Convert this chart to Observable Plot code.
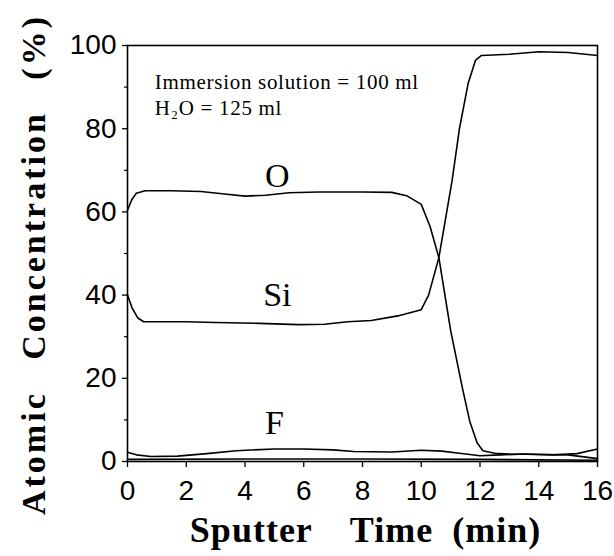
<!DOCTYPE html>
<html><head><meta charset="utf-8">
<script src="https://cdn.jsdelivr.net/npm/d3@7"></script>
<script src="https://cdn.jsdelivr.net/npm/@observablehq/plot@0.6"></script>
<style>
body{margin:0;background:#fff;}
</style></head><body><div id="chart"></div>
<script>
// ---- data ----
const oTime  = [0, 0.15, 0.3, 0.6, 1.5, 2.5, 3.3, 4, 4.7, 5.5, 6.5, 8, 9, 9.5, 10, 10.3, 10.6, 11.0, 11.4, 11.65, 11.9, 12.1, 12.5, 13, 14, 15, 16];
const oValue = [60.4, 63, 64.5, 65.1, 65.1, 64.9, 64.3, 63.8, 64.0, 64.6, 64.8, 64.8, 64.7, 63.9, 61.8, 56.5, 49, 31.5, 17.7, 9.7, 4.5, 2.6, 2.0, 1.8, 1.7, 1.6, 0.7];
const siTime  = [0, 0.15, 0.35, 0.55, 2, 3, 4.5, 5.8, 6.7, 7.5, 8.3, 9.2, 10, 10.25, 10.6, 11.05, 11.3, 11.6, 11.85, 12.05, 13, 14, 15, 16];
const siValue = [40, 37, 34.5, 33.6, 33.6, 33.4, 33.2, 32.9, 33.0, 33.6, 33.9, 35.0, 36.5, 40, 49, 67.5, 80, 91, 96.5, 97.6, 97.9, 98.5, 98.3, 97.6];
const fTime  = [0, 0.3, 0.8, 1.7, 2.7, 3.7, 5, 6, 7, 7.7, 9, 10, 10.7, 11.3, 12, 12.7, 13.5, 14.5, 15.3, 16];
const fValue = [2.2, 1.6, 1.2, 1.3, 1.9, 2.6, 3.0, 3.0, 2.8, 2.4, 2.3, 2.7, 2.5, 2.0, 1.4, 1.6, 1.8, 1.6, 1.9, 3.0];
const baseTime  = [0, 4, 8, 12, 16];
const baseValue = [0.5, 0.6, 0.6, 0.5, 0.3];

const xTicks = [0, 2, 4, 6, 8, 10, 12, 14, 16];
const yTicks = [0, 20, 40, 60, 80, 100];
const yMinorTicks = [10, 30, 50, 70, 90];

const seriesLabels = ["O", "Si", "F"];
const labelTime  = [5.1, 5.1, 5.0];
const labelValue = [68.5, 40, 9.2];

const notes = ["Immersion solution = 100 ml", "H\u2082O = 125 ml"];
const noteTime  = [0.93, 0.93];
const noteValue = [91.2, 84.9];

const xTitle = "Sputter\u2003Time\u2002(min)";
const yTitle = "Atomic\u2002 Concentration\u2002 (%)";

// ---- build tables ----
const rows = [];
const add = (name, ts, vs) => ts.forEach((t, i) => rows.push({series: name, t, v: vs[i]}));
add("O", oTime, oValue);
add("Si", siTime, siValue);
add("F", fTime, fValue);
add("base", baseTime, baseValue);
const labelRows = seriesLabels.map((s, i) => ({s, t: labelTime[i], v: labelValue[i]}));
const noteRows = notes.map((s, i) => ({s, t: noteTime[i], v: noteValue[i]}));

const serif = "'Liberation Serif', 'Times New Roman', serif";
const sans = "'Liberation Sans', Arial, sans-serif";

const chart = Plot.plot({
  width: 614, height: 556,
  marginLeft: 127, marginRight: 17, marginTop: 45, marginBottom: 95,
  x: {domain: [0, 16]},
  y: {domain: [0, 100]},
  style: {background: "white", color: "black"},
  marks: [
    Plot.axisX({ticks: xTicks, tickSize: 6, tickPadding: 13, fontSize: 28, fontFamily: sans, label: null, strokeWidth: 1.3}),
    Plot.axisY({ticks: yTicks, tickSize: 5, tickPadding: 6, fontSize: 28, fontFamily: sans, label: null, strokeWidth: 1.3}),
    Plot.axisY({ticks: yMinorTicks, tickSize: 3, tickFormat: () => "", label: null, strokeWidth: 1.2}),
    Plot.frame({stroke: "black", strokeWidth: 1.6}),
    Plot.line(rows, {x: "t", y: "v", z: "series", stroke: "black", strokeWidth: 1.6, strokeLinejoin: "round"}),
    Plot.text(labelRows, {x: "t", y: "v", text: "s", fontSize: 34, fontFamily: serif, lineAnchor: "middle"}),
    Plot.text(noteRows, {x: "t", y: "v", text: "s", textAnchor: "start", fontSize: 21, fontFamily: serif, lineAnchor: "middle"}),
    Plot.text([xTitle], {text: d => d, frameAnchor: "bottom", textAnchor: "middle", dx: 3, dy: 69, lineAnchor: "middle", fontWeight: "bold", fontSize: 36, fontFamily: serif}),
    Plot.text([yTitle], {text: d => d, frameAnchor: "left", textAnchor: "middle", rotate: -90, dx: -93, dy: 11, lineAnchor: "middle", fontWeight: "bold", fontSize: 34, fontFamily: serif})
  ]
});
document.getElementById("chart").append(chart);
d3.select(chart).selectAll("text").each(function() {
  const t = this.textContent;
  if (t === yTitle) this.setAttribute("letter-spacing", "3");
  if (t === xTitle) this.setAttribute("letter-spacing", "1");
  if (t === notes[0] || t === notes[1]) this.setAttribute("letter-spacing", "0.7");
});
</script></body></html>
